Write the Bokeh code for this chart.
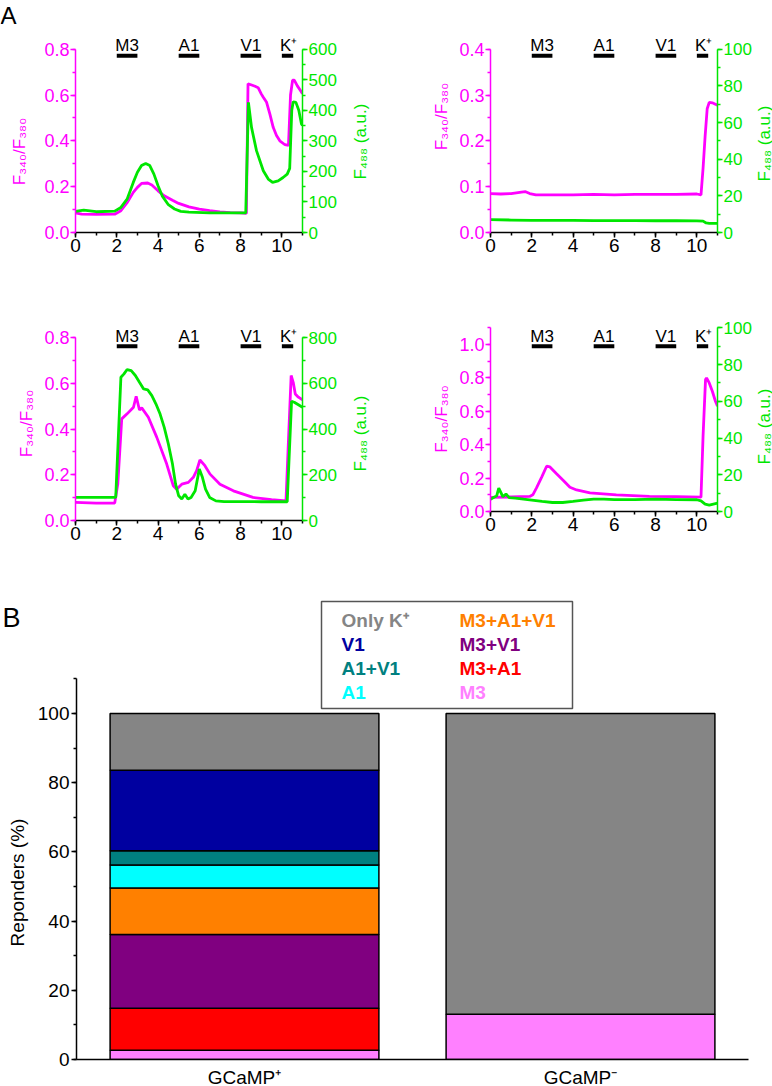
import math
from bokeh.plotting import figure
from bokeh.layouts import column, row
from bokeh.models import (Range1d, LinearAxis, SingleIntervalTicker, NumeralTickFormatter,
                          Label, FactorRange, ColumnDataSource)
from bokeh.embed import file_html
from bokeh.resources import INLINE
from bokeh.core.properties import value

MAG = "#ff00ff"
GRN = "#00e600"
FONT = "Liberation Sans"

# ---------------- data: panel A traces ----------------
stim_names = ["M3", "A1", "V1", "K\u207a"]
stim_start = [2.0, 5.0, 8.0, 10.0]
stim_end = [3.0, 6.0, 9.0, 10.55]

# cell 1 (top left)
t_r1 = [0, 0.3, 1.0, 1.9, 2.2, 2.5, 2.8, 3.0, 3.2, 3.5, 3.7, 4.0, 4.3, 4.7, 5.0, 5.5, 6.0, 6.5, 7.0, 7.5,
        8.0, 8.28, 8.36, 8.5, 8.7, 8.85, 9.0, 9.1, 9.26, 9.42, 9.58, 9.74, 9.9, 10.15, 10.32, 10.42,
        10.52, 10.6, 10.75, 10.9, 11.0]
r1 = [0.086, 0.080, 0.079, 0.080, 0.095, 0.13, 0.175, 0.197, 0.214, 0.216, 0.207, 0.182, 0.16, 0.141,
      0.127, 0.112, 0.102, 0.095, 0.090, 0.087, 0.086, 0.083, 0.649, 0.645, 0.638, 0.632, 0.605, 0.59,
      0.568, 0.517, 0.459, 0.423, 0.40, 0.383, 0.38, 0.60, 0.665, 0.665, 0.64, 0.62, 0.605]
t_g1 = [0, 0.4, 1.0, 1.9, 2.2, 2.5, 2.8, 3.0, 3.2, 3.4, 3.6, 3.8, 4.0, 4.2, 4.5, 4.8, 5.1, 5.5, 6.5, 7.5,
        8.25, 8.38, 8.53, 8.77, 9.1, 9.34, 9.55, 9.82, 10.06, 10.26, 10.38, 10.48, 10.55, 10.68, 10.82,
        10.95, 11.0]
g1 = [69, 73, 68, 70, 82, 109, 164, 197, 219, 226, 219, 191, 153, 120, 91, 77, 69, 67, 64, 64,
      64, 426, 344, 268, 202, 175, 164, 169, 180, 191, 210, 400, 428, 426, 400, 355, 350]

# cell 2 (top right)
t_r2 = [0, 0.5, 1.0, 1.5, 1.7, 1.9, 2.2, 3.0, 4.0, 5.0, 6.0, 7.0, 8.0, 9.0, 10.0, 10.2, 10.3, 10.4,
        10.5, 10.6, 10.75, 10.9, 11.0]
r2 = [0.085, 0.084, 0.085, 0.088, 0.089, 0.085, 0.082, 0.082, 0.082, 0.083, 0.082, 0.083, 0.083, 0.083,
      0.084, 0.082, 0.14, 0.21, 0.27, 0.284, 0.283, 0.28, 0.278]
t_g2 = [0, 1, 2, 3, 4, 5, 6, 7, 8, 9, 10, 10.3, 10.45, 10.6, 11.0]
g2 = [7.0, 6.8, 6.6, 6.6, 6.6, 6.5, 6.5, 6.5, 6.4, 6.4, 6.3, 6.2, 5.2, 5.0, 5.0]

# cell 3 (bottom left)
t_r3 = [0, 1.0, 1.9, 2.05, 2.24, 2.5, 2.81, 2.94, 3.1, 3.21, 3.53, 3.94, 4.42, 4.74, 4.9, 5.15, 5.47,
        5.71, 5.87, 6.03, 6.27, 6.52, 7.0, 7.65, 8.6, 9.5, 10.2, 10.3, 10.45, 10.55, 10.65, 10.8, 11.0]
r3 = [0.079, 0.076, 0.076, 0.16, 0.445, 0.467, 0.496, 0.544, 0.484, 0.493, 0.452, 0.364, 0.247, 0.152,
      0.137, 0.159, 0.167, 0.189, 0.218, 0.265, 0.24, 0.203, 0.159, 0.13, 0.101, 0.091, 0.086, 0.306,
      0.635, 0.605, 0.554, 0.54, 0.528]
t_g3 = [0, 1.0, 1.95, 2.2, 2.35, 2.5, 2.7, 2.9, 3.1, 3.3, 3.5, 3.7, 3.9, 4.1, 4.3, 4.5, 4.7, 4.85, 5.0,
        5.15, 5.3, 5.45, 5.6, 5.8, 6.0, 6.15, 6.3, 6.5, 6.8, 7.2, 8.0, 9.0, 10.0, 10.26, 10.47, 10.6,
        10.8, 11.0]
g3 = [101, 101, 101, 627, 642, 661, 656, 635, 605, 576, 572, 547, 510, 466, 408, 335, 247, 159, 108,
      94, 115, 94, 101, 130, 225, 189, 137, 101, 86, 83, 83, 82, 82, 82, 522, 518, 507, 496]

# cell 4 (bottom right)
t_r4 = [0, 1.0, 1.9, 2.05, 2.23, 2.48, 2.72, 2.88, 3.2, 3.53, 3.85, 4.17, 4.82, 6.1, 7.7, 9.0, 10.2,
        10.3, 10.42, 10.47, 10.6, 10.75, 10.9, 11.0]
r4 = [0.085, 0.087, 0.09, 0.1, 0.141, 0.206, 0.271, 0.267, 0.226, 0.186, 0.145, 0.129, 0.111, 0.099,
      0.091, 0.089, 0.086, 0.45, 0.79, 0.80, 0.77, 0.72, 0.66, 0.63]
t_g4 = [0, 0.15, 0.3, 0.4, 0.5, 0.6, 0.75, 0.9, 1.2, 1.6, 2.0, 2.5, 3.0, 3.5, 4.0, 4.5, 5.0, 5.5, 6.0,
        7.0, 8.0, 9.0, 10.0, 10.2, 10.4, 10.6, 10.8, 11.0]
g4 = [6.7, 7.6, 8.5, 12.7, 10.4, 8.0, 9.5, 7.6, 7.3, 6.7, 6.2, 5.5, 4.9, 4.9, 5.5, 6.2, 6.7, 6.7, 6.5,
      6.5, 6.7, 6.5, 6.4, 5.8, 4.0, 3.5, 4.0, 4.5]

# ---------------- data: panel B ----------------
cats = ["GCaMP\u207a", "GCaMP\u207b"]
groups = ["M3", "M3+A1", "M3+V1", "M3+A1+V1", "A1", "A1+V1", "V1", "Only K\u207a"]
pos_vals = [2.7, 12.1, 21.3, 13.5, 6.6, 4.1, 23.3, 16.4]
neg_vals = [13.1, 0, 0, 0, 0, 0, 0, 86.9]
group_colors = ["#ff80ff", "#ff0000", "#800080", "#ff8000", "#00ffff", "#008080", "#0000a0", "#858585"]

RATIO_LABEL = "F\u2083\u2084\u2080/F\u2083\u2088\u2080"
F488_LABEL = "F\u2084\u2088\u2088 (a.u.)"


def style_axis(ax, color, tick_size="18px", label_size="17px"):
    ax.axis_line_color = color
    ax.axis_line_width = 1.5
    ax.major_tick_line_color = color
    ax.minor_tick_line_color = color
    ax.major_tick_line_width = 1.5
    ax.minor_tick_line_width = 1.5
    ax.major_tick_in = 0
    ax.major_tick_out = 5
    ax.minor_tick_in = 0
    ax.minor_tick_out = 3
    ax.major_label_text_color = color
    ax.major_label_text_font = FONT
    ax.major_label_text_font_size = tick_size
    ax.major_label_standoff = 1
    ax.axis_label_text_color = color
    ax.axis_label_text_font = FONT
    ax.axis_label_text_font_size = label_size
    ax.axis_label_text_font_style = "normal"
    ax.axis_label_standoff = 5


def blank_fig(w, top, fh, bottom):
    f = figure(frame_width=w, frame_height=fh, min_border_left=0, min_border_right=0,
               min_border_top=top, min_border_bottom=bottom, x_range=Range1d(0, w),
               y_range=Range1d(0, fh), x_axis_type=None, y_axis_type=None,
               output_backend="svg", toolbar_location=None, title=None)
    f.outline_line_color = None
    return f


def make_panel(t_r, r, t_g, g, ymax, ystep, gmax, gstep, canvas_top, frame_top, ax_top, ax_bot,
               bl, br, bb, text_img_y, bar_img_y, left_label=True):
    fh = int(round(ax_bot - frame_top))
    scale = (ax_bot - frame_top) / (ax_bot - ax_top)
    p = figure(frame_width=227, frame_height=fh, min_border_left=bl, min_border_right=br,
               min_border_top=int(round(frame_top - canvas_top)), min_border_bottom=bb,
               x_range=Range1d(0, 11), y_range=Range1d(0, ymax * scale), output_backend="svg",
               toolbar_location=None, title=None)
    p.extra_y_ranges = {"g": Range1d(0, gmax * scale)}
    p.xgrid.visible = False
    p.ygrid.visible = False
    p.outline_line_color = None

    def dy(img_y):
        return ymax * (ax_bot - img_y) / (ax_bot - ax_top)

    p.line(t_r, r, line_color=MAG, line_width=2.8)
    p.line(t_g, g, line_color=GRN, line_width=2.8, y_range_name="g")

    p.xaxis.ticker = SingleIntervalTicker(interval=2, num_minor_ticks=2)
    style_axis(p.xaxis[0], "black", tick_size="19px")

    p.yaxis.ticker = SingleIntervalTicker(interval=ystep, num_minor_ticks=2)
    p.yaxis.formatter = NumeralTickFormatter(format="0.0")
    p.yaxis.bounds = (0, ymax)
    if left_label:
        p.yaxis.axis_label = RATIO_LABEL
    style_axis(p.yaxis[0], MAG)

    ra = LinearAxis(y_range_name="g", ticker=SingleIntervalTicker(interval=gstep, num_minor_ticks=2),
                    bounds=(0, gmax))
    style_axis(ra, GRN, tick_size="17px")
    p.add_layout(ra, "right")

    yb = [dy(bar_img_y)] * len(stim_start)
    p.segment(x0=stim_start, y0=yb, x1=stim_end, y1=yb, line_color="black", line_width=4,
              line_cap="butt")
    for name, s0, s1 in zip(stim_names, stim_start, stim_end):
        cx = (s0 + s1) / 2.0 + (0.05 if name.startswith("K") else 0.0)
        p.add_layout(Label(x=cx, y=dy(text_img_y), text=name, text_align="center",
                           text_baseline="middle", text_font=FONT, text_font_size="17px",
                           text_color="black"))
    return p


def right_label_fig(w, top, fh, bottom, frame_top_img, center_img_y, x_local):
    """Thin strip that carries the rotated F488 label of the panel on its left."""
    f = blank_fig(w, top, fh, bottom)
    f.text(x=[x_local], y=[frame_top_img + fh - center_img_y], text=[F488_LABEL],
           text_font=value(FONT), text_font_size="17px", text_align="center",
           text_baseline="middle", text_color=GRN, angle=math.pi / 2)
    return f


# ---- row 1 (canvas y 0..275): frames reach the canvas top so the row labels fit
R1_TOP, R1_FH, R1_BOT = 0, 232, 43
pA = blank_fig(40, R1_TOP, R1_FH, R1_BOT)
pA.text(x=[0], y=[R1_FH - 1], text=["A"], text_font=value(FONT), text_font_size="24px",
        text_align="left", text_baseline="top", text_color="black")
pA.text(x=[19], y=[R1_FH - 151], text=[RATIO_LABEL], text_font=value(FONT), text_font_size="17px",
        text_align="center", text_baseline="middle", text_color=MAG, angle=math.pi / 2)
p1 = make_panel(t_r1, r1, t_g1, g1, 0.8, 0.2, 600, 100, 0, 0, 48.7, 232, 35, 36, R1_BOT,
                44.5, 55.3, left_label=False)
pD1 = right_label_fig(51, R1_TOP, R1_FH, R1_BOT, 0, 141, 21)
p2 = make_panel(t_r2, r2, t_g2, g2, 0.4, 0.1, 100, 20, 0, 0, 48.7, 232, 100, 35, R1_BOT,
                44.5, 55.3)
pC1 = right_label_fig(20, R1_TOP, R1_FH, R1_BOT, 0, 143, 10)

# ---- row 2 (canvas y 275..560)
ROW2_TOP = R1_TOP + R1_FH + R1_BOT
p3 = make_panel(t_r3, r3, t_g3, g3, 0.8, 0.2, 800, 200, ROW2_TOP, 326, 337.3, 520, 75, 36, 40,
                335.5, 345.7)
pD2 = right_label_fig(51, 51, 194, 40, 326, 433, 21)
p4 = make_panel(t_r4, r4, t_g4, g4, 1.1, 0.2, 100, 20, ROW2_TOP, 326, 327.3, 511, 100, 35, 49,
                335.5, 345.7)
pC2 = right_label_fig(20, 51, 185, 49, 326, 426, 10)

# ---- panel B (canvas y 560..1085)
TOP5 = ROW2_TOP + 285
AX0 = 1059
PX_PER_UNIT = (AX0 - 713) / 100.0
FRAME_TOP5 = 596
FH5 = AX0 - FRAME_TOP5
BOT5 = 26
p5 = figure(frame_width=672, frame_height=FH5, min_border_left=46, min_border_right=22,
            min_border_top=FRAME_TOP5 - TOP5, min_border_bottom=BOT5,
            x_range=FactorRange(factors=cats, range_padding=0),
            y_range=Range1d(0, FH5 / PX_PER_UNIT), output_backend="svg",
            toolbar_location=None, title=None)
p5.xgrid.visible = False
p5.ygrid.visible = False
p5.outline_line_color = None

bar_data = {"cat": cats}
for gname, a, b in zip(groups, pos_vals, neg_vals):
    bar_data[gname] = [a, b]
p5.vbar_stack(groups, x="cat", width=0.8, fill_color=group_colors, line_color="black",
              line_width=1.5, source=ColumnDataSource(bar_data))

style_axis(p5.yaxis[0], "black", tick_size="19px", label_size="19px")
p5.yaxis.ticker = SingleIntervalTicker(interval=20, num_minor_ticks=2)
p5.yaxis.bounds = (0, 110)
p5.yaxis.major_label_standoff = 2
style_axis(p5.xaxis[0], "black", tick_size="19px")
p5.xaxis.major_tick_line_color = None
p5.xaxis.minor_tick_line_color = None
p5.xaxis.major_label_standoff = 2


def bx(img_x):  # image x -> synthetic x of the factor range
    return (img_x - 76) / 336.0


def by(img_y):  # image y -> data y
    return (AX0 - img_y) / PX_PER_UNIT


p5.quad(left=[bx(321)], right=[bx(572)], top=[by(601)], bottom=[by(708)],
        fill_color="white", line_color="#555555", line_width=1.5)
leg_names = groups[::-1]
leg_colors = group_colors[::-1]
col_x = [bx(341)] * 4 + [bx(459)] * 4
row_y = [by(v) for v in (620, 644, 668, 692)] * 2
p5.text(x=col_x, y=row_y, text=leg_names, text_color=leg_colors, text_font=value(FONT),
        text_font_style="bold", text_font_size="19px", text_baseline="middle", text_align="left")

pB = blank_fig(30, FRAME_TOP5 - TOP5, FH5, BOT5)
pB.text(x=[2], y=[AX0 - 602], text=["B"], text_font=value(FONT), text_font_size="27px",
        text_align="left", text_baseline="top", text_color="black")
pB.text(x=[17], y=[AX0 - 882], text=["Reponders (%)"], text_font=value(FONT),
        text_font_size="19px", text_align="center", text_baseline="middle", text_color="black",
        angle=math.pi / 2)

layout = column(row(pA, p1, pD1, p2, pC1), row(p3, pD2, p4, pC2), row(pB, p5))
open("out.html", "w").write(file_html(layout, INLINE))
